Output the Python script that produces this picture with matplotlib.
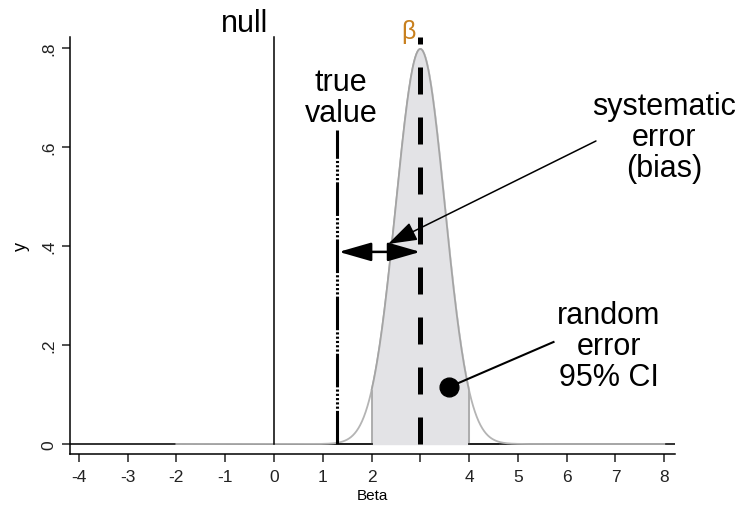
import numpy as np
import matplotlib.pyplot as plt

plt.rcParams['font.family'] = ['Liberation Sans', 'DejaVu Sans']

# data
beta_hat = 3.0
beta_se = 0.5
true_value = 1.3
ci_low, ci_high = 2.0, 4.0
xticks = [-4, -3, -2, -1, 0, 1, 2, 3, 4, 5, 6, 7, 8]
xticklabels = ['-4', '-3', '-2', '-1', '0', '1', '2', '', '4', '5', '6', '7', '8']
yticks = [0, 0.2, 0.4, 0.6, 0.8]
yticklabels = ['0', '.2', '.4', '.6', '.8']


def dens(v):
    return np.exp(-0.5 * ((v - beta_hat) / beta_se) ** 2) / (beta_se * np.sqrt(2 * np.pi))


x = np.linspace(-2, 8, 800)
y = dens(x)

fig = plt.figure(figsize=(7.4, 5.06), dpi=100)
ax = fig.add_axes([69.5 / 740, 1 - 455 / 506, 605.5 / 740, 417 / 506])
ax.set_xlim(-4.19, 8.22)
ax.set_ylim(-0.0202, 0.822)

# baseline
ax.plot([-4.19, 8.22], [0, 0], color='#222222', lw=1.3, zorder=1)

# curve and CI shading
ax.plot(x, y, color='#b4b4b4', lw=1.3, zorder=2)
m = (x >= ci_low) & (x <= ci_high)
ax.fill_between(x[m], 0, y[m], color='#e3e3e6', zorder=2)
for xc in (ci_low, ci_high):
    ax.plot([xc, xc], [0, dens(xc)], color='#a8a8a8', lw=1.3, zorder=3)
ax.plot(x[m], y[m], color='#a4a4a4', lw=1.3, zorder=3)
ax.plot([ci_low - 0.65, ci_low], [0, 0], color='#222222', lw=1.3, zorder=3)
ax.plot([ci_high, ci_high + 0.6], [0, 0], color='#222222', lw=1.3, zorder=3)

# null line
ax.plot([0, 0], [0, 0.822], color='black', lw=1.1, clip_on=False, zorder=4)
ax.text(-0.12, 0.85, 'null', ha='right', va='center', fontsize=22)

# beta hat line
ax.plot([beta_hat, beta_hat], [0, 0.822], color='black', lw=3.6,
        linestyle=(0, (5.4, 4.6)), dash_capstyle='butt', clip_on=False, zorder=5)
ax.text(beta_hat - 0.25, 0.835, 'β', ha='center', va='center', fontsize=18, color='#c8801e')

# true value line
ax.plot([true_value, true_value], [0, 0.635], color='black', lw=2.2,
        linestyle=(0, (11, 0.7, 0.7, 0.7, 0.7, 0.7, 0.7, 0.7, 0.7, 0.7, 0.7, 0.7)),
        dash_capstyle='butt', zorder=5)
ax.text(true_value + 0.07, 0.699, 'true\nvalue', ha='center', va='center', fontsize=22,
        linespacing=1.05)

# double arrow for bias
ax.annotate('', xy=(true_value + 0.03, 0.388), xytext=(beta_hat, 0.388),
            arrowprops=dict(arrowstyle='<|-|>,head_length=0.8,head_width=0.23',
                            color='black', lw=1.8, mutation_scale=25,
                            shrinkA=0, shrinkB=0), zorder=6)

# systematic error label
ax.text(7.99, 0.62, 'systematic\nerror\n(bias)', ha='center', va='center', fontsize=22,
        linespacing=1.05)
ax.annotate('', xy=(2.34, 0.404), xytext=(6.6, 0.612),
            arrowprops=dict(arrowstyle='-|>,head_length=0.72,head_width=0.24',
                            color='black', lw=1.1, mutation_scale=25,
                            shrinkA=0, shrinkB=0), zorder=6)

# random error label
ax.text(6.86, 0.198, 'random\nerror\n95% CI', ha='center', va='center', fontsize=22,
        linespacing=1.05)
ax.plot([3.59, 5.73], [0.115, 0.206], color='black', lw=1.5, zorder=6)
ax.plot([3.59], [0.115], 'o', color='black', markersize=13.5, zorder=7)

# axes styling
for s in ('top', 'right'):
    ax.spines[s].set_visible(False)
ax.spines['left'].set_linewidth(1.1)
ax.spines['bottom'].set_linewidth(1.1)
ax.set_xticks(xticks)
ax.set_xticklabels(xticklabels, fontsize=12.5, color='#222222')
ax.set_yticks(yticks)
ax.set_yticklabels(yticklabels, fontsize=12.5, rotation=90, va='center', color='#222222')
ax.tick_params(length=6, width=1.1, color='#222222')
ax.tick_params(axis='x', pad=5)
ax.set_xlabel('Beta', fontsize=11, labelpad=3)
ax.set_ylabel('y', fontsize=13, labelpad=8)

fig.savefig('out.png', dpi=100)
